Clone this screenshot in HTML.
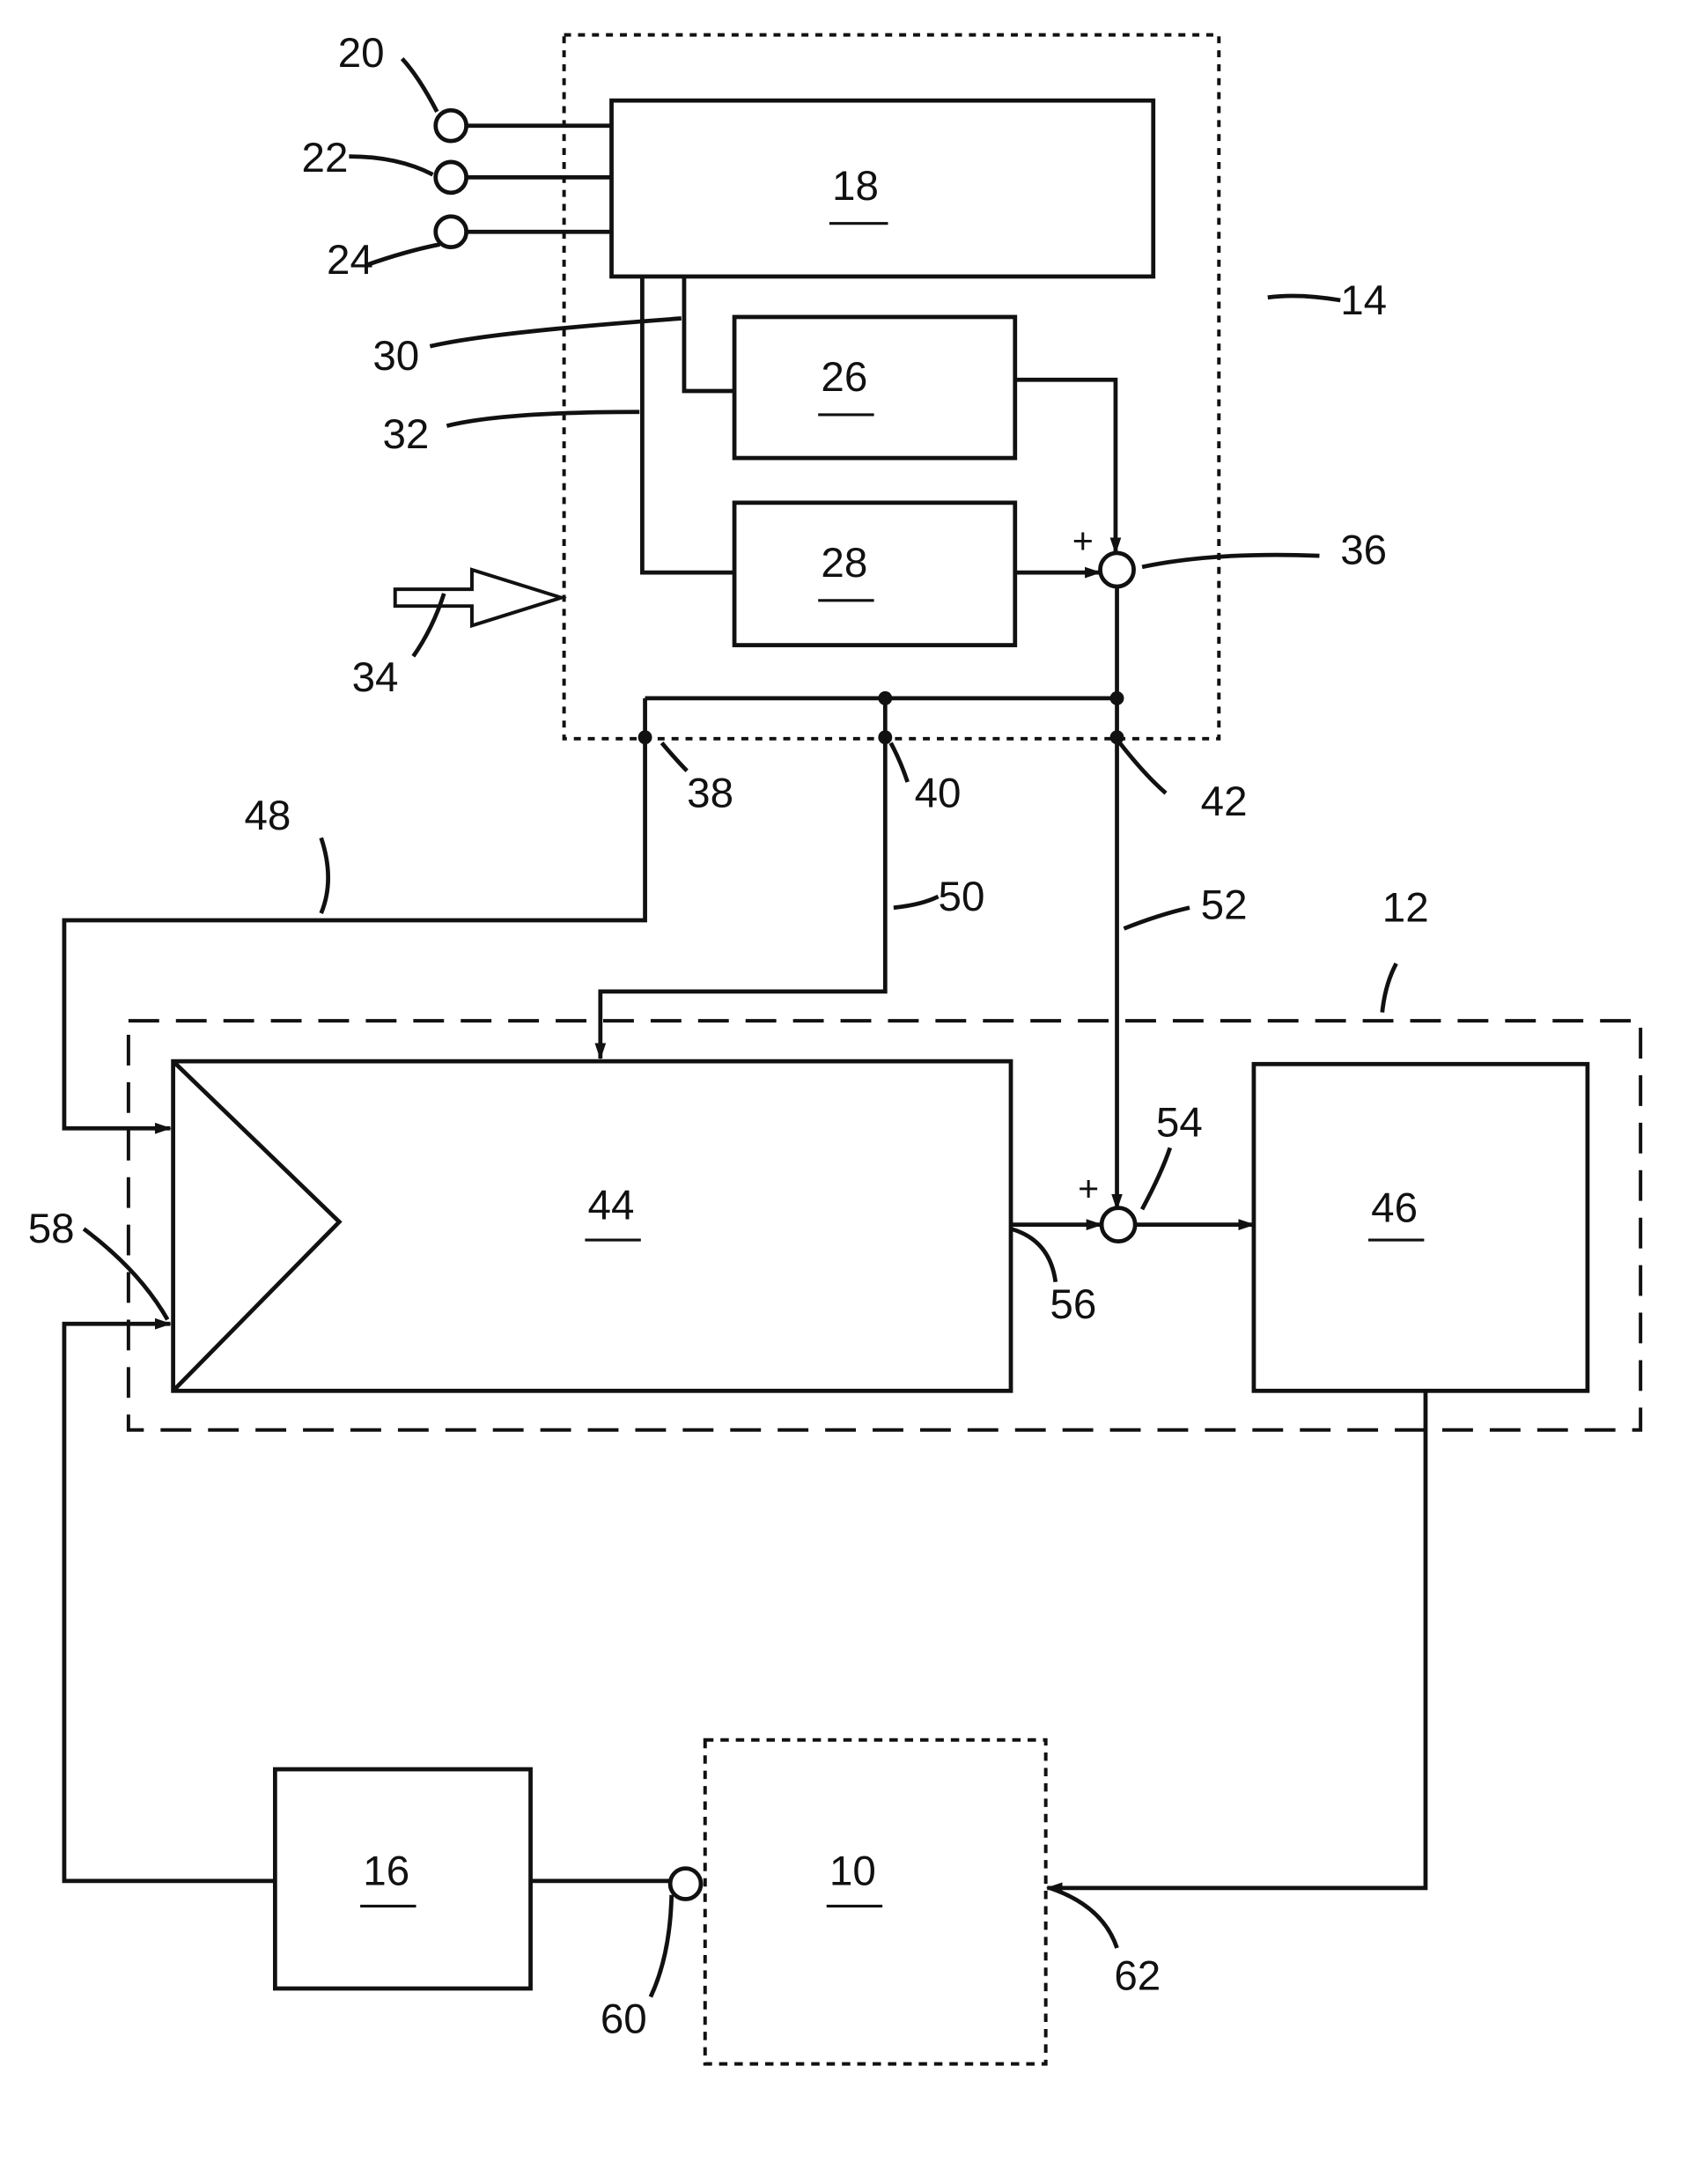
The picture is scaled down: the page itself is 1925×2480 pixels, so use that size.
<!DOCTYPE html>
<html><head><meta charset="utf-8"><style>
html,body{margin:0;padding:0;background:#fff;}
svg{display:block;}
text{font-family:"Liberation Sans",sans-serif;font-size:30px;fill:#111;}
</style></head><body>
<svg width="1925" height="2480" viewBox="0 0 1214 1564" preserveAspectRatio="none" xmlns="http://www.w3.org/2000/svg">
<defs>
<marker id="a" markerWidth="12" markerHeight="10" refX="11" refY="5" orient="auto" markerUnits="userSpaceOnUse">
<path d="M0,1 L12,5 L0,9 Z" fill="#111"/></marker>
</defs>
<g fill="none" stroke="#111" stroke-width="3">
<!-- box 14 dotted -->
<rect x="404" y="25" width="469" height="504" stroke-dasharray="5,5" stroke-width="2.5"/>
<rect x="438" y="72" width="388" height="126"/>
<circle cx="323" cy="90" r="11"/><circle cx="323" cy="127" r="11"/><circle cx="323" cy="166" r="11"/>
<path d="M334 90H438M334 127H438M334 166H438"/>
<path d="M460 198V410H526M490 198V280H526"/>
<rect x="526" y="227" width="201" height="101"/>
<rect x="526" y="360" width="201" height="102"/>
<circle cx="800" cy="408" r="12"/>
<path d="M727 272H799V396" marker-end="url(#a)"/>
<path d="M727 410H788" marker-end="url(#a)"/>
<path d="M800 420V866" marker-end="url(#a)"/>
<path d="M462 500H800M462 500V659H46V808H122" marker-end="url(#a)"/>
<path d="M634 500V710H430V758" marker-end="url(#a)"/>
<!-- box 12 dashed -->
<rect x="92" y="731" width="1083" height="293" stroke-dasharray="22,12" stroke-width="2.5"/>
<rect x="124" y="760" width="600" height="236"/>
<path d="M124 760L243 875L124 996"/>
<path d="M724 877H789" marker-end="url(#a)"/>
<circle cx="801" cy="877" r="12"/>
<path d="M813 877H898" marker-end="url(#a)"/>
<rect x="898" y="762" width="239" height="234"/>
<path d="M1021 996V1352H750" marker-end="url(#a)"/>
<rect x="505" y="1246" width="244" height="232" stroke-dasharray="6,5" stroke-width="2.5"/>
<rect x="197" y="1267" width="183" height="157"/>
<path d="M380 1347H480"/>
<circle cx="491" cy="1349" r="11"/>
<path d="M197 1347H46V948H122" marker-end="url(#a)"/>
<!-- hollow arrow 34 -->
<path d="M283 422H338V408L402 428L338 448V434H283Z" stroke-width="2.5"/>
<!-- leaders -->
<path d="M288 42Q300 55 313 80M250 112Q285 112 310 125M262 190Q290 180 315 175M308 248Q350 238 488 228M320 305Q360 295 458 295M296 470Q310 450 318 425M818 406Q870 395 945 398M908 213Q930 210 960 215M474 532Q485 545 492 552M638 532Q645 545 650 560M802 532Q820 555 835 568M230 654Q240 630 230 600M640 650Q660 648 672 642M805 665Q830 655 852 650M990 725Q992 705 1000 690M818 866Q832 840 838 822M724 880Q752 888 756 918M60 880Q100 910 120 945M481 1357Q480 1400 466 1430M752 1352Q790 1365 800 1395"/>
</g>
<g fill="#111">
<circle cx="462" cy="528" r="5"/><circle cx="634" cy="500" r="5"/><circle cx="800" cy="500" r="5"/>
<circle cx="634" cy="528" r="5"/><circle cx="800" cy="528" r="5"/>
</g>
<g>
<text x="242" y="48">20</text><text x="216" y="123">22</text><text x="234" y="196">24</text>
<text x="267" y="265">30</text><text x="274" y="321">32</text><text x="252" y="495">34</text>
<text x="960" y="404">36</text><text x="960" y="225">14</text>
<text x="492" y="578">38</text><text x="655" y="578">40</text><text x="860" y="584">42</text>
<text x="175" y="594">48</text><text x="672" y="652">50</text><text x="860" y="658">52</text>
<text x="990" y="660">12</text><text x="828" y="814">54</text><text x="752" y="944">56</text>
<text x="20" y="890">58</text><text x="430" y="1456">60</text><text x="798" y="1425">62</text>
<text x="768" y="396" style="font-size:26px">+</text><text x="772" y="860" style="font-size:26px">+</text>
<text x="596" y="143">18</text><text x="588" y="280">26</text><text x="588" y="413">28</text>
<text x="421" y="873">44</text><text x="982" y="875">46</text><text x="260" y="1350">16</text><text x="594" y="1350">10</text>
</g>
<g stroke="#111" stroke-width="2">
<path d="M594 160H636M586 297H626M586 430H626M419 888H459M980 888H1020M258 1365H298M592 1365H632"/>
</g>
</svg>
</body></html>
